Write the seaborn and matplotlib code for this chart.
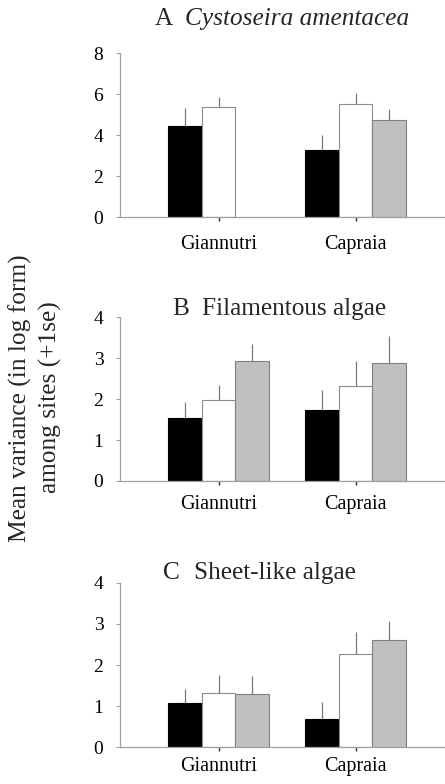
import numpy as np
import pandas as pd
import matplotlib
matplotlib.use("Agg")
import matplotlib.pyplot as plt
import seaborn as sns

# Islands (x categories) and the three treatment levels (bar fills)
islands = ["Giannutri", "Capraia"]
levels = ["t1", "t2", "t3"]

# Mean variance (log form) among sites, per island and level; None = not sampled
mean_A = {"Giannutri": [4.43, 5.40, None], "Capraia": [3.27, 5.52, 4.73]}
se_A = {"Giannutri": [0.90, 0.47, None], "Capraia": [0.74, 0.56, 0.57]}

mean_B = {"Giannutri": [1.55, 1.97, 2.93], "Capraia": [1.74, 2.32, 2.89]}
se_B = {"Giannutri": [0.38, 0.38, 0.42], "Capraia": [0.48, 0.62, 0.65]}

mean_C = {"Giannutri": [1.08, 1.33, 1.29], "Capraia": [0.69, 2.27, 2.60]}
se_C = {"Giannutri": [0.33, 0.43, 0.45], "Capraia": [0.42, 0.54, 0.46]}

y_max = [8, 4, 4]
y_ticks = [[0, 2, 4, 6, 8], [0, 1, 2, 3, 4], [0, 1, 2, 3, 4]]

fills = {"t1": "#000000", "t2": "#ffffff", "t3": "#c0c0c0"}
edges = {"t1": "#000000", "t2": "#8c8c8c", "t3": "#808080"}
axis_grey = "#a0a0a0"

sns.set_theme(style="white")
plt.rcParams["font.family"] = ["Liberation Serif", "DejaVu Serif"]

W, H = 445, 784
fig = plt.figure(figsize=(W / 100, H / 100), dpi=100)


def frame(means, ses):
    rows = []
    for isl in islands:
        for lev, m, s in zip(levels, means[isl], ses[isl]):
            if m is not None:
                rows.append({"island": isl, "level": lev, "mean": m, "se": s})
    return pd.DataFrame(rows)


def px(x, y):
    return x / W, 1 - y / H


# axes boxes in pixels: (top, bottom), and x tick label padding
boxes = [(53.3, 217.3), (317.3, 481.0), (582.7, 747.3)]
xpads = [10, 7, 4]
panels = [(mean_A, se_A), (mean_B, se_B), (mean_C, se_C)]
left_px = 120

axes = []
for (top, bottom), xpad, (means, ses), ymax, yt in zip(boxes, xpads, panels,
                                                       y_max, y_ticks):
    l, b = px(left_px, bottom)
    ax = fig.add_axes([l, b, 1 - l, (bottom - top) / H])
    df = frame(means, ses)
    sns.barplot(data=df, x="island", y="mean", hue="level", order=islands,
                hue_order=levels, palette=fills, saturation=1, width=0.735,
                errorbar=None, legend=False, linewidth=0.8, ax=ax)
    for lev, cont in zip(levels, ax.containers):
        for bar in cont:
            bar.set_edgecolor(edges[lev])
            bar.set_linewidth(0.8)
            xc = bar.get_x() + bar.get_width() / 2
            isl = islands[int(round(xc))]
            s = ses[isl][levels.index(lev)]
            h = bar.get_height()
            ax.vlines(xc, h, h + s, color="#7a7a7a", lw=0.9, zorder=1)
    ax.set_xlim(-0.72, 1.652)
    ax.set_ylim(0, ymax)
    ax.set_yticks(yt)
    ax.set_xlabel("")
    ax.set_ylabel("")
    sns.despine(ax=ax, top=True, right=True)
    for side in ("left", "bottom"):
        ax.spines[side].set_color(axis_grey)
        ax.spines[side].set_linewidth(0.9)
    ax.tick_params(axis="y", left=True, length=3, width=0.8, color=axis_grey,
                   pad=9, labelsize=14, labelcolor="black")
    ax.tick_params(axis="x", bottom=True, length=3, width=1.0, color="#303030",
                   pad=xpad, labelsize=14.5, labelcolor="black")
    axes.append(ax)

# Panel titles
title_size = 18.2
fig.text(*px(155, 25), "A", fontsize=title_size, va="baseline")
fig.text(*px(185, 25), "Cystoseira amentacea", fontsize=title_size,
         style="italic", va="baseline")
fig.text(*px(172, 315), "B", fontsize=title_size, va="baseline")
fig.text(*px(202, 315), "Filamentous algae", fontsize=title_size, va="baseline")
fig.text(*px(163, 579), "C", fontsize=title_size, va="baseline")
fig.text(*px(194, 579), "Sheet-like algae", fontsize=title_size, va="baseline")

# Shared y-axis label
fig.text(*px(20, 398), "Mean variance (in log form)", fontsize=18.3,
         rotation=90, ha="center", va="center")
fig.text(*px(50, 397), "among sites (+1se)", fontsize=18.3,
         rotation=90, ha="center", va="center")

fig.savefig("out.png", dpi=100, facecolor="white")
